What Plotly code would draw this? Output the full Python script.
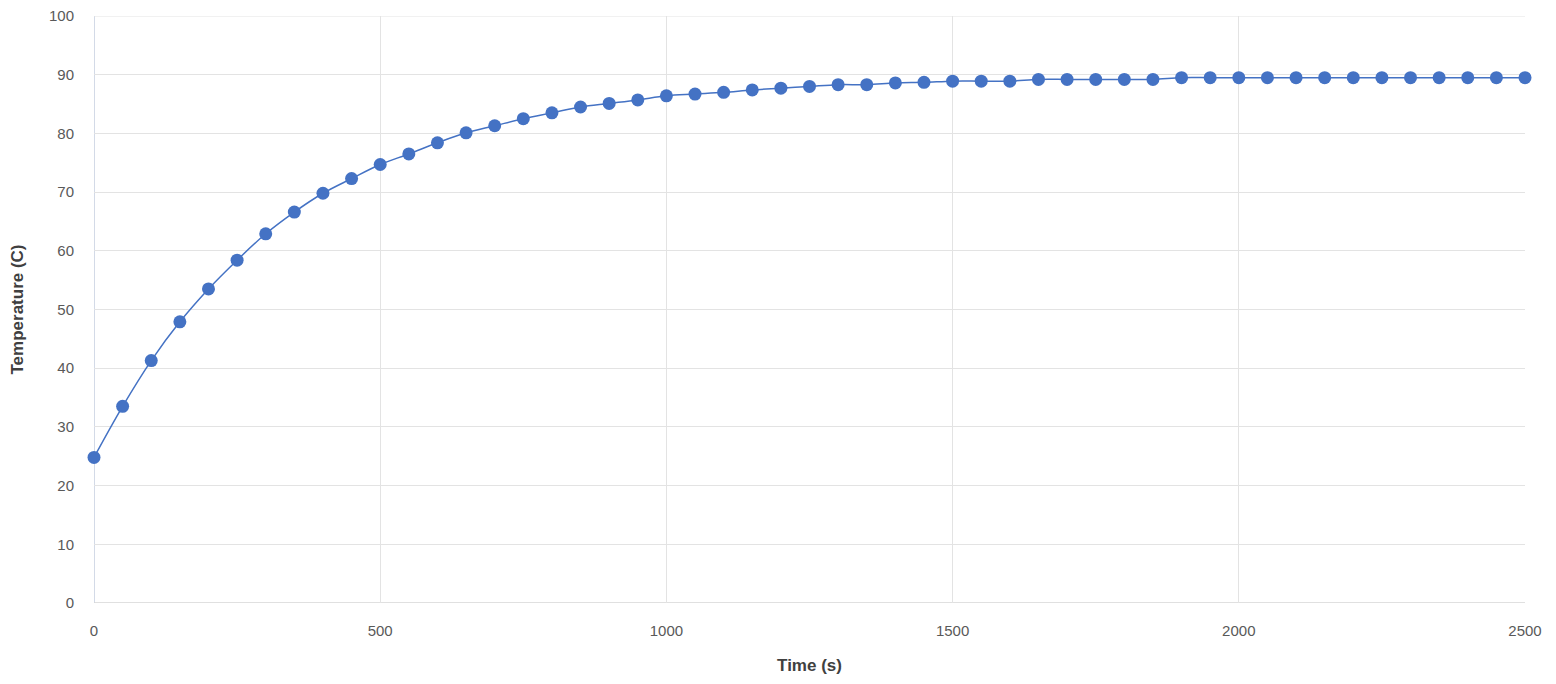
import plotly.graph_objects as go

time_s = list(range(0, 2501, 50))
temperature_c = [
    24.8, 33.5, 41.3, 47.9, 53.5, 58.4, 62.9, 66.6, 69.8, 72.3,
    74.7, 76.5, 78.4, 80.1, 81.3, 82.5, 83.5, 84.5, 85.1, 85.7,
    86.4, 86.7, 87.0, 87.4, 87.7, 88.0, 88.3, 88.3, 88.6, 88.7,
    88.9, 88.9, 88.9, 89.2, 89.2, 89.2, 89.2, 89.2, 89.5, 89.5,
    89.5, 89.5, 89.5, 89.5, 89.5, 89.5, 89.5, 89.5, 89.5, 89.5,
    89.5,
]
x_ticks = [0, 500, 1000, 1500, 2000, 2500]
y_ticks = list(range(0, 101, 10))

blue = "#4472C4"
grid = "#E3E3E3"
tick_font = dict(family="Liberation Sans Narrow, Liberation Sans, Arial", size=15, color="#595959")
title_font = dict(family="Liberation Sans Narrow, Liberation Sans, Arial", size=17, color="#404040")

fig = go.Figure(
    go.Scatter(
        x=time_s,
        y=temperature_c,
        mode="lines+markers",
        line=dict(color=blue, width=1.5, shape="spline"),
        marker=dict(color=blue, size=13),
        showlegend=False,
        cliponaxis=False,
    )
)

fig.update_layout(
    width=1548,
    height=676,
    margin=dict(l=86, r=31, t=8, b=81, autoexpand=False),
    paper_bgcolor="white",
    plot_bgcolor="white",
    xaxis=dict(
        range=[0, 2500],
        tickvals=x_ticks,
        showgrid=True,
        gridcolor=grid,
        gridwidth=1,
        zeroline=False,
        showline=False,
        automargin=False,
        tickfont=tick_font,
        ticks="outside",
        ticklen=14,
        tickcolor="rgba(0,0,0,0)",
        ticklabeloverflow="allow",
        title=dict(text="<b>Time (s)</b>", font=title_font, standoff=21),
    ),
    yaxis=dict(
        range=[0, 100],
        tickvals=y_ticks,
        showgrid=True,
        gridcolor=grid,
        gridwidth=1,
        zeroline=False,
        showline=False,
        automargin=False,
        tickfont=tick_font,
        ticks="outside",
        ticklen=16,
        tickcolor="rgba(0,0,0,0)",
        ticklabeloverflow="allow",
        title=dict(text="<b>Temperature (C)</b>", font=title_font, standoff=24),
    ),
    shapes=[
        dict(type="line", xref="x", yref="paper", x0=0, x1=0, y0=0, y1=1,
             line=dict(color="#C5CEDF", width=1.5), layer="below"),
        dict(type="line", xref="paper", yref="y", x0=0, x1=1, y0=0, y1=0,
             line=dict(color="#D6D6D6", width=1.5), layer="below"),
        dict(type="line", xref="paper", yref="y", x0=0, x1=1, y0=100, y1=100,
             line=dict(color=grid, width=1), layer="below"),
    ],
)

fig.write_html("out.html")
